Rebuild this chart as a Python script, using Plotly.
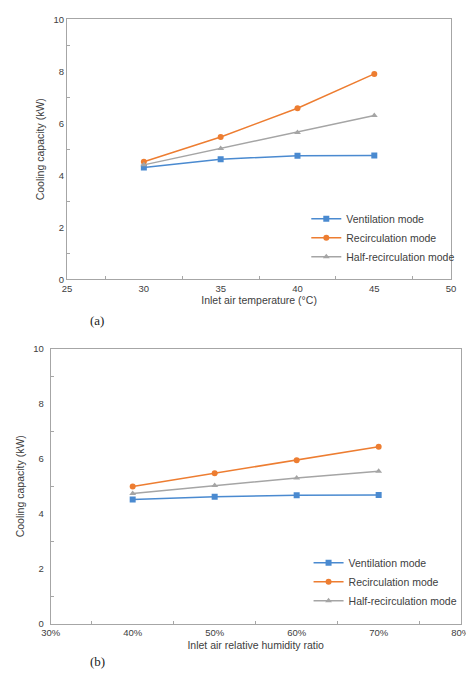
import plotly.graph_objects as go

# (a) inlet air temperature
temp = [30, 35, 40, 45]
vent_a = [4.30, 4.62, 4.75, 4.76]
recirc_a = [4.52, 5.47, 6.58, 7.90]
half_a = [4.40, 5.03, 5.65, 6.30]

# (b) inlet air relative humidity
rh = [0.40, 0.50, 0.60, 0.70]
vent_b = [4.52, 4.62, 4.67, 4.68]
recirc_b = [4.99, 5.47, 5.95, 6.44]
half_b = [4.74, 5.03, 5.30, 5.55]

names = ['Ventilation mode', 'Recirculation mode', 'Half-recirculation mode']
colors = ['#4a8ad0', '#ed7d31', '#a5a5a5']
symbols = ['square', 'circle', 'triangle-up']

fig = go.Figure()
for i, ys in enumerate([vent_a, recirc_a, half_a]):
    fig.add_trace(go.Scatter(x=temp, y=ys, name=names[i], mode='lines+markers',
                             line=dict(color=colors[i], width=1.5),
                             marker=dict(color=colors[i], symbol=symbols[i], size=6),
                             xaxis='x', yaxis='y', legend='legend'))
for i, ys in enumerate([vent_b, recirc_b, half_b]):
    fig.add_trace(go.Scatter(x=rh, y=ys, name=names[i], mode='lines+markers',
                             line=dict(color=colors[i], width=1.5),
                             marker=dict(color=colors[i], symbol=symbols[i], size=6),
                             xaxis='x2', yaxis='y2', legend='legend2'))

ax = dict(showline=True, mirror=True, linecolor='#a6a6a6', linewidth=1,
          showgrid=False, zeroline=False, ticks='', tickfont=dict(size=9.5, color='#404040'),
          minor=dict(ticks='inside', ticklen=3, tickcolor='#a6a6a6'))
tf = dict(size=10.5, color='#404040')

fig.update_layout(
    width=474, height=679,
    margin=dict(l=0, r=0, t=0, b=0),
    paper_bgcolor='white', plot_bgcolor='white',
    font=dict(family='Liberation Sans, Arial', color='#404040'),
    xaxis=dict(ax, domain=[0.108, 0.954], range=[25, 50], dtick=5, anchor='y',
               title=dict(text='Inlet air temperature (°C)', font=tf, standoff=4),
               minor=dict(ax['minor'], dtick=2.5)),
    yaxis=dict(ax, domain=[0.603, 0.992], range=[0, 10], dtick=2, anchor='x',
               title=dict(text='Cooling capacity (kW)', font=tf, standoff=6),
               minor=dict(ax['minor'], dtick=1)),
    xaxis2=dict(ax, domain=[0.072, 0.975], range=[0.3, 0.8], dtick=0.1, tickformat='.0%', anchor='y2',
                title=dict(text='Inlet air relative humidity ratio', font=tf, standoff=4),
                minor=dict(ax['minor'], dtick=0.05)),
    yaxis2=dict(ax, domain=[0.087, 0.499], range=[0, 10], dtick=2, anchor='x2', ticklabelstandoff=4,
                title=dict(text='Cooling capacity (kW)', font=tf, standoff=6),
                minor=dict(ax['minor'], dtick=1)),
    legend=dict(x=0.635, y=0.615, xanchor='left', yanchor='bottom', font=dict(size=10.5),
                bgcolor='rgba(0,0,0,0)', tracegroupgap=0, itemwidth=30),
    legend2=dict(x=0.64, y=0.1, xanchor='left', yanchor='bottom', font=dict(size=10.5),
                 bgcolor='rgba(0,0,0,0)', tracegroupgap=0, itemwidth=30),
    annotations=[
        dict(text='(a)', x=0.155, y=1 - 312 / 679, xref='paper', yref='paper', showarrow=False,
             font=dict(family='Liberation Serif', size=13, color='#222')),
        dict(text='(b)', x=0.155, y=1 - 668 / 679, xref='paper', yref='paper', showarrow=False,
             font=dict(family='Liberation Serif', size=13, color='#222')),
    ],
)

fig.write_html("out.html")
